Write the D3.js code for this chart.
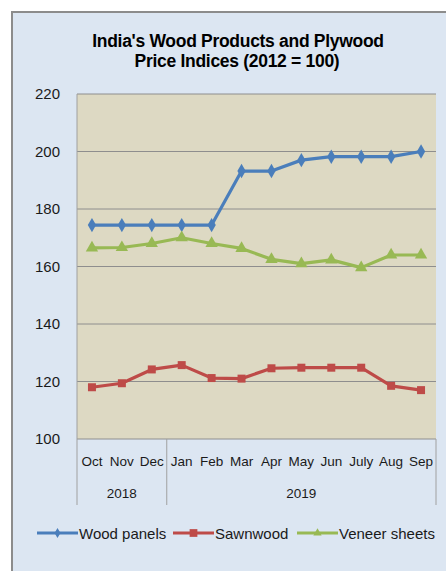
<!DOCTYPE html>
<html>
<head>
<meta charset="utf-8">
<script src="https://cdn.jsdelivr.net/npm/d3@7"></script>
<style>
  body { margin: 0; background: #fff; }
  text { font-family: "Liberation Sans", Arial, sans-serif; }
</style>
</head>
<body>
<svg id="chart" width="446" height="571"></svg>
<script>
// data
var months = ["Oct", "Nov", "Dec", "Jan", "Feb", "Mar", "Apr", "May", "Jun", "July", "Aug", "Sep"];
var years = [{ label: "2018", from: 0, to: 3 }, { label: "2019", from: 3, to: 12 }];
var woodPanels = [174.4, 174.4, 174.4, 174.4, 174.4, 193.2, 193.2, 197, 198.2, 198.2, 198.2, 200];
var sawnwood = [118, 119.4, 124.2, 125.7, 121.2, 121, 124.6, 124.8, 124.8, 124.8, 118.5, 117];
var veneerSheets = [166.5, 166.6, 168, 170, 168, 166.3, 162.5, 161, 162.3, 159.6, 164, 164];
var yTicks = [100, 120, 140, 160, 180, 200, 220];

var series = [
  { name: "Wood panels", values: woodPanels, color: "#4a7ebb", symbol: d3.symbolDiamond, size: 60 },
  { name: "Sawnwood", values: sawnwood, color: "#be4b48", symbol: d3.symbolSquare, size: 64 },
  { name: "Veneer sheets", values: veneerSheets, color: "#98b954", symbol: d3.symbolTriangle, size: 66 }
];

var svg = d3.select("#chart");

// outer panel
svg.append("rect")
    .attr("x", 12).attr("y", 12)
    .attr("width", 446).attr("height", 571)
    .style("fill", "#dce6f2")
    .style("stroke", "#8c8c8c")
    .style("stroke-width", 2);

svg.append("text")
    .attr("x", 238).attr("y", 47)
    .attr("text-anchor", "middle")
    .style("font-size", "17.5px").style("font-weight", "bold")
    .style("letter-spacing", "-0.3px")
    .text("India's Wood Products and Plywood");
svg.append("text")
    .attr("x", 237).attr("y", 67)
    .attr("text-anchor", "middle")
    .style("font-size", "17.5px").style("font-weight", "bold")
    .style("letter-spacing", "-0.3px")
    .text("Price Indices (2012 = 100)");

var plotL = 77, plotR = 436, plotT = 94, plotB = 439;

var x = d3.scaleBand().domain(months).range([plotL, plotR]).paddingInner(0).paddingOuter(0);
var y = d3.scaleLinear().domain([100, 220]).range([plotB, plotT]);

svg.append("rect")
    .attr("x", plotL).attr("y", plotT)
    .attr("width", plotR - plotL).attr("height", plotB - plotT)
    .style("fill", "#ddd9c3");

// gridlines
svg.append("g")
    .selectAll("line")
    .data(yTicks)
    .enter()
    .append("line")
    .attr("x1", plotL).attr("x2", plotR)
    .attr("y1", function(d) { return y(d); })
    .attr("y2", function(d) { return y(d); })
    .style("stroke", "#8e8e8e")
    .style("stroke-width", 1);

// y axis labels
var yAxis = d3.axisLeft(y).tickValues(yTicks).tickSize(0).tickPadding(17);
svg.append("g")
    .attr("transform", "translate(" + plotL + ",0)")
    .call(yAxis)
    .call(function(g) { g.select(".domain").remove(); })
    .selectAll("text")
    .style("font-size", "15px")
    .style("fill", "#1a1a1a")
    .style("font-family", "'Liberation Sans', Arial, sans-serif");

// left axis line
svg.append("line")
    .attr("x1", plotL).attr("x2", plotL)
    .attr("y1", plotT).attr("y2", plotB)
    .style("stroke", "#a0a0a0");

// month labels
svg.append("g")
    .selectAll("text")
    .data(months)
    .enter()
    .append("text")
    .attr("x", function(d) { return x(d) + x.bandwidth() / 2; })
    .attr("y", 466)
    .attr("text-anchor", "middle")
    .style("font-size", "13.5px")
    .style("fill", "#1a1a1a")
    .text(function(d) { return d; });

// year group separators
var seps = [0, 3, 12];
svg.append("g")
    .selectAll("line")
    .data(seps)
    .enter()
    .append("line")
    .attr("x1", function(d) { return d < 12 ? x(months[d]) : plotR; })
    .attr("x2", function(d) { return d < 12 ? x(months[d]) : plotR; })
    .attr("y1", plotB).attr("y2", 505)
    .style("stroke", "#a0a0a0");

svg.append("g")
    .selectAll("text")
    .data(years)
    .enter()
    .append("text")
    .attr("x", function(d) {
        var a = x(months[d.from]);
        var b = d.to < 12 ? x(months[d.to]) : plotR;
        return (a + b) / 2;
    })
    .attr("y", 498)
    .attr("text-anchor", "middle")
    .style("font-size", "13.5px")
    .style("fill", "#1a1a1a")
    .text(function(d) { return d.label; });

// series
var line = d3.line()
    .x(function(d, i) { return x(months[i]) + x.bandwidth() / 2; })
    .y(function(d) { return y(d); });

series.forEach(function(s) {
    svg.append("path")
        .datum(s.values)
        .attr("d", line)
        .style("fill", "none")
        .style("stroke", s.color)
        .style("stroke-width", 3.2)
        .style("stroke-linejoin", "round");
    svg.append("g")
        .selectAll("path")
        .data(s.values)
        .enter()
        .append("path")
        .attr("d", d3.symbol().type(s.symbol).size(s.size))
        .attr("transform", function(d, i) {
            return "translate(" + (x(months[i]) + x.bandwidth() / 2) + "," + y(d) + ")";
        })
        .style("fill", s.color);
});

// legend
var legendX = [37, 173, 297];
var leg = svg.append("g")
    .selectAll("g")
    .data(series)
    .enter()
    .append("g")
    .attr("transform", function(d, i) { return "translate(" + legendX[i] + ",533)"; });
leg.append("line")
    .attr("x1", 0).attr("x2", 41)
    .style("stroke", function(d) { return d.color; })
    .style("stroke-width", 3.2);
leg.append("path")
    .attr("d", function(d) { return d3.symbol().type(d.symbol).size(d.name === "Sawnwood" ? 60 : 30)(); })
    .attr("transform", "translate(20.5,0)")
    .style("fill", function(d) { return d.color; });
leg.append("text")
    .attr("x", 42).attr("y", 5.5)
    .style("font-size", "15px")
    .style("fill", "#1a1a1a")
    .text(function(d) { return d.name; });
</script>
</body>
</html>
